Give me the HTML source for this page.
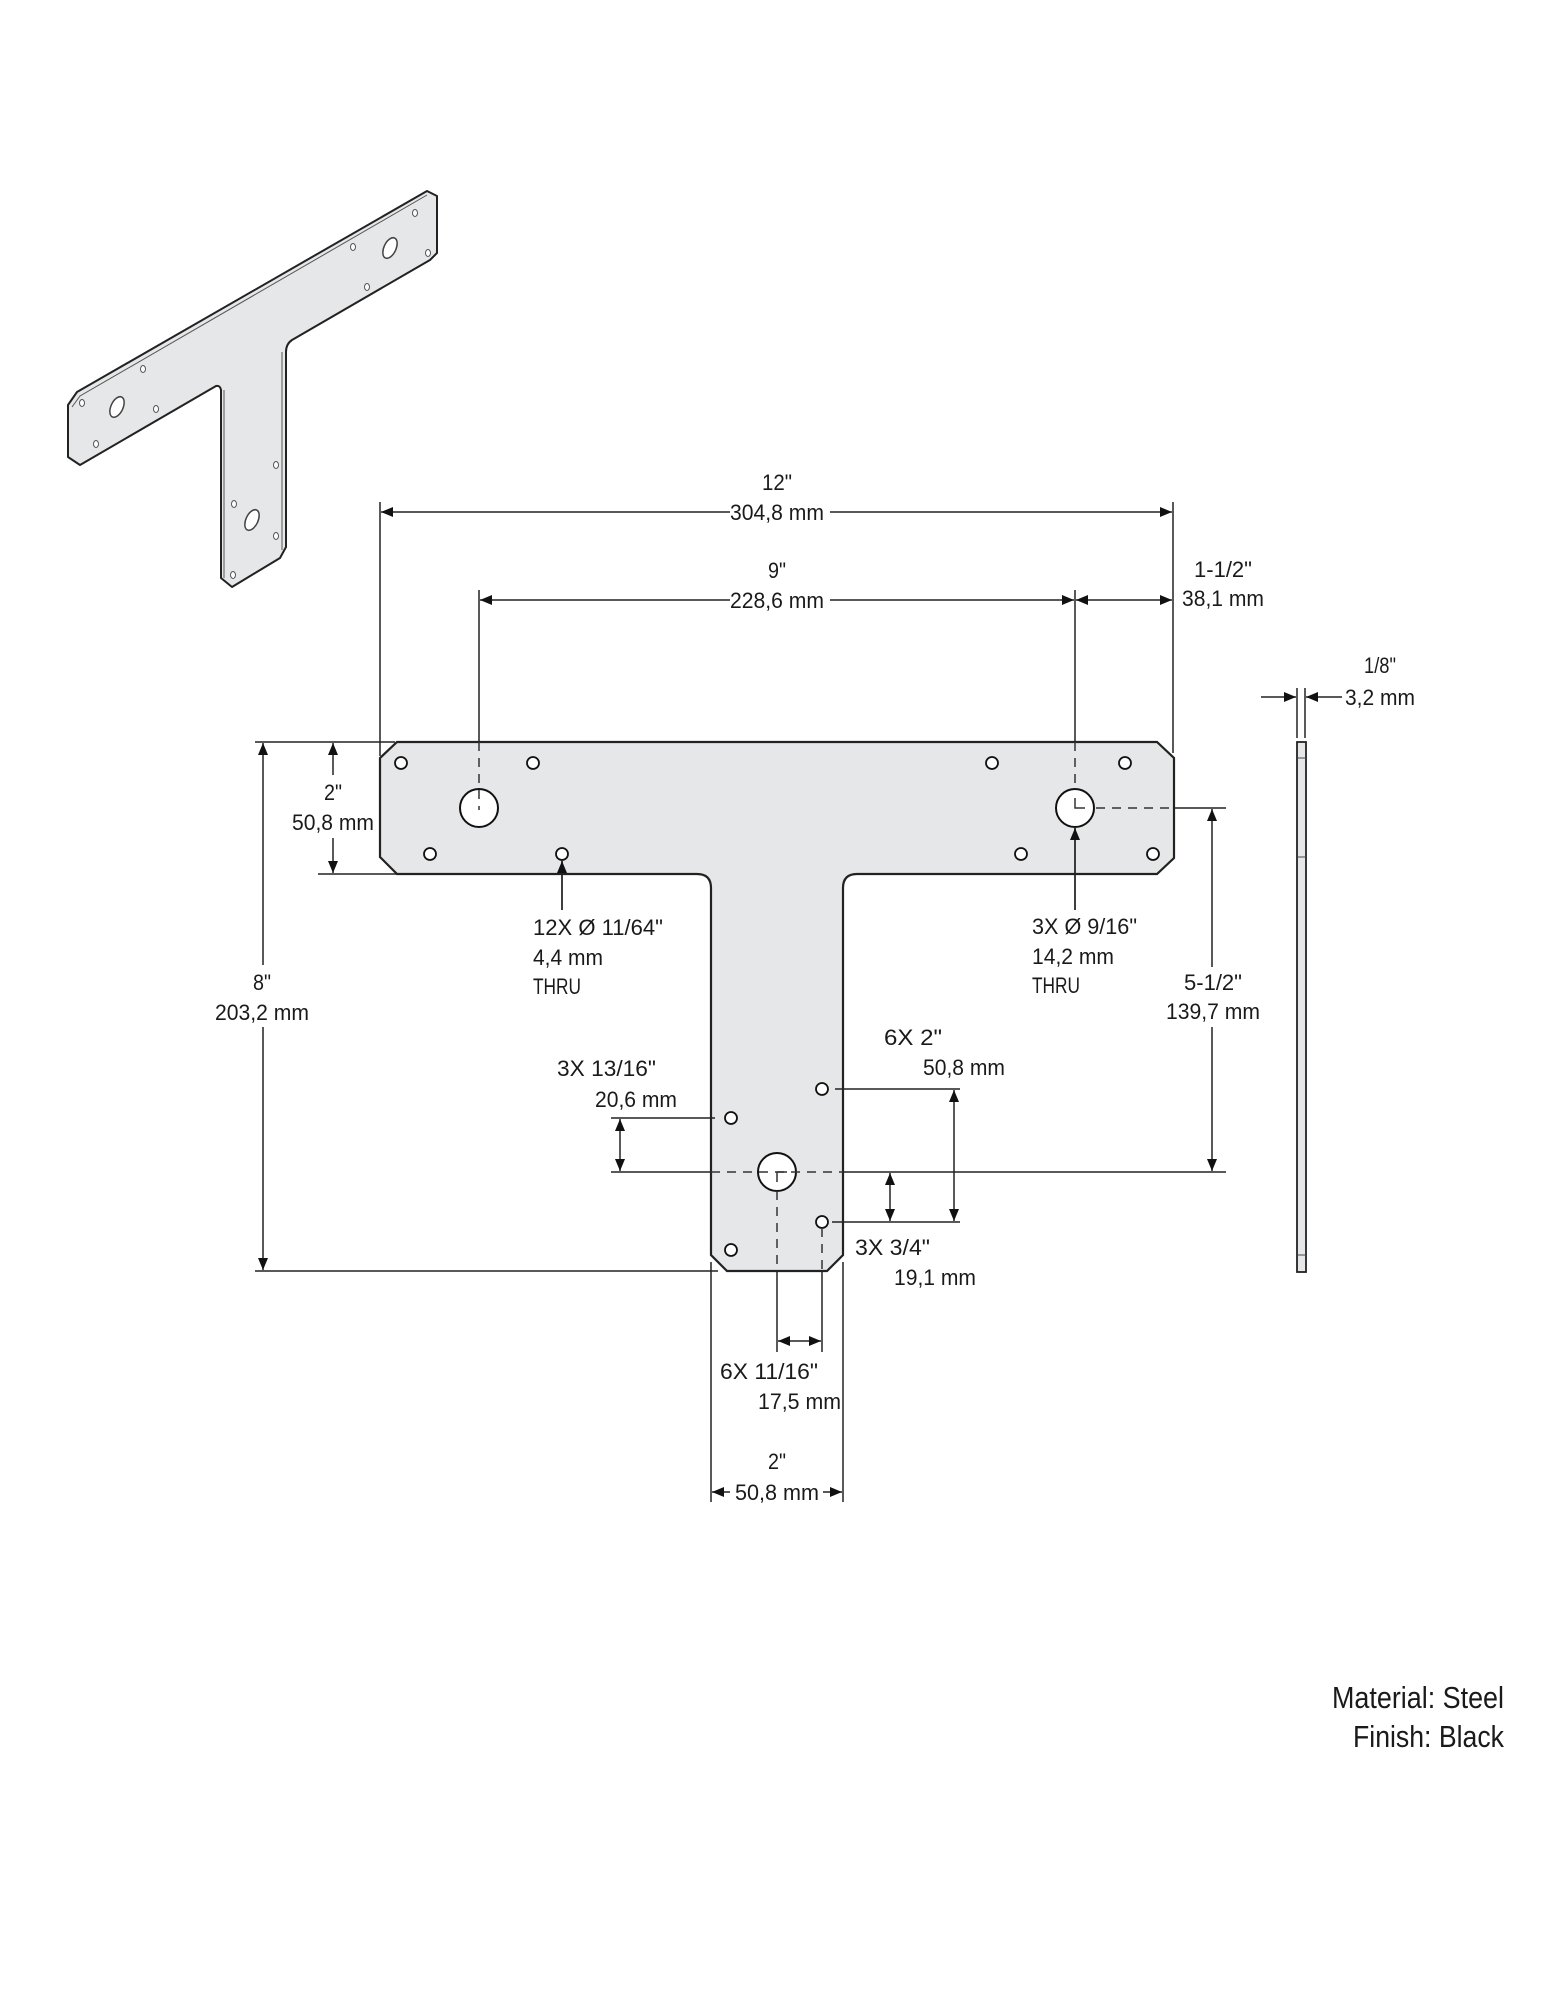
<!DOCTYPE html>
<html><head><meta charset="utf-8"><style>
html,body{margin:0;padding:0;background:#fff;}
svg{display:block;}
text{font-family:"Liberation Sans",sans-serif;font-size:22px;fill:#1a1a1a;}
</style></head><body>
<svg width="1544" height="2000" viewBox="0 0 1544 2000" xmlns="http://www.w3.org/2000/svg">
<defs>
<marker id="a" markerUnits="userSpaceOnUse" markerWidth="12" markerHeight="10" refX="12" refY="5" orient="auto-start-reverse"><path d="M0,0 L12,5 L0,10 z" fill="#111"/></marker>
</defs>

<!-- 3D isometric T -->
<g stroke="#222" stroke-width="2" fill="#e6e7e8" stroke-linejoin="round">
<path d="M427,191 L437,196 L437,253 L430,260 L292,340 Q286,344 286,352 L286,547 L280,558 L232,587 L221,578 L221,390 Q220,385 216,386 L80,465 L68,457 L68,405 L77,392 Z"/>
</g>
<g stroke="#555" stroke-width="1" fill="none">
<path d="M427,195 L80,396 L72,407"/>
<path d="M224,390 L224,578"/>
<path d="M282,352 L282,550"/>
</g>
<g stroke="#444" stroke-width="1.5" fill="#fff">
<ellipse cx="390" cy="248" rx="6" ry="11" transform="rotate(25 390 248)"/>
<ellipse cx="117" cy="407" rx="6" ry="11" transform="rotate(25 117 407)"/>
<ellipse cx="252" cy="520" rx="6" ry="11" transform="rotate(25 252 520)"/>
</g>
<g stroke="#555" stroke-width="1" fill="#fff">
<ellipse cx="415" cy="213" rx="2.5" ry="3.5"/><ellipse cx="428" cy="253" rx="2.5" ry="3.5"/>
<ellipse cx="353" cy="247" rx="2.5" ry="3.5"/><ellipse cx="367" cy="287" rx="2.5" ry="3.5"/>
<ellipse cx="143" cy="369" rx="2.5" ry="3.5"/><ellipse cx="82" cy="403" rx="2.5" ry="3.5"/>
<ellipse cx="156" cy="409" rx="2.5" ry="3.5"/><ellipse cx="96" cy="444" rx="2.5" ry="3.5"/>
<ellipse cx="276" cy="465" rx="2.5" ry="3.5"/><ellipse cx="234" cy="504" rx="2.5" ry="3.5"/>
<ellipse cx="276" cy="536" rx="2.5" ry="3.5"/><ellipse cx="233" cy="575" rx="2.5" ry="3.5"/>
</g>

<!-- Main T plate -->
<path d="M397,742 L1157,742 L1174,758 L1174,858 L1157,874 L857,874 Q843,874 843,888 L843,1255 L827,1271 L727,1271 L711,1255 L711,888 Q711,874 697,874 L397,874 L380,857 L380,758 Z" fill="#e6e7e8" stroke="#222" stroke-width="2.2"/>

<!-- holes -->
<g stroke="#111" stroke-width="2" fill="#fff">
<circle cx="479" cy="808" r="19"/><circle cx="1075" cy="808" r="19"/><circle cx="777" cy="1172" r="19"/>
</g>
<g stroke="#111" stroke-width="1.8" fill="#fff">
<circle cx="401" cy="763" r="6"/><circle cx="533" cy="763" r="6"/><circle cx="430" cy="854" r="6"/><circle cx="562" cy="854" r="6"/>
<circle cx="992" cy="763" r="6"/><circle cx="1125" cy="763" r="6"/><circle cx="1021" cy="854" r="6"/><circle cx="1153" cy="854" r="6"/>
<circle cx="731" cy="1118" r="6"/><circle cx="822" cy="1089" r="6"/><circle cx="822" cy="1222" r="6"/><circle cx="731" cy="1250" r="6"/>
</g>

<!-- dashed center lines -->
<g stroke="#333" stroke-width="1.5" fill="none" stroke-dasharray="9,7">
<line x1="479" y1="742" x2="479" y2="810"/>
<line x1="1075" y1="742" x2="1075" y2="790"/>
<line x1="1096" y1="808" x2="1174" y2="808"/>
<line x1="711" y1="1172" x2="843" y2="1172"/>
<line x1="777" y1="1191" x2="777" y2="1271"/>
<line x1="822" y1="1228" x2="822" y2="1271"/>
</g>
<g stroke="#333" stroke-width="1.5" fill="none">
<path d="M1075,798 L1075,808 L1085,808"/>
<path d="M777,1172 L787,1172 M777,1172 L777,1182"/>
</g>

<!-- dimension / extension lines -->
<g stroke="#222" stroke-width="1.5" fill="none">
<line x1="380" y1="502" x2="380" y2="756"/>
<line x1="1173" y1="502" x2="1173" y2="753"/>
<line x1="479" y1="590" x2="479" y2="742"/>
<line x1="1075" y1="590" x2="1075" y2="742"/>
<line x1="1075" y1="827" x2="1075" y2="910"/>
<line x1="562" y1="860" x2="562" y2="910"/>
<line x1="255" y1="742" x2="395" y2="742"/>
<line x1="255" y1="1271" x2="718" y2="1271"/>
<line x1="318" y1="874" x2="397" y2="874"/>
<line x1="1174" y1="808" x2="1226" y2="808"/>
<line x1="843" y1="1172" x2="1226" y2="1172"/>
<line x1="611" y1="1172" x2="711" y2="1172"/>
<line x1="611" y1="1118" x2="715" y2="1118"/>
<line x1="835" y1="1089" x2="960" y2="1089"/>
<line x1="832" y1="1222" x2="960" y2="1222"/>
<line x1="777" y1="1271" x2="777" y2="1352"/>
<line x1="822" y1="1271" x2="822" y2="1352"/>
<line x1="711" y1="1262" x2="711" y2="1502"/>
<line x1="843" y1="1262" x2="843" y2="1502"/>
<line x1="1297" y1="688" x2="1297" y2="738"/>
<line x1="1305" y1="688" x2="1305" y2="738"/>
</g>
<g stroke="#222" stroke-width="1.5" fill="none" marker-end="url(#a)">
<line x1="730" y1="512" x2="381" y2="512"/>
<line x1="830" y1="512" x2="1172" y2="512"/>
<line x1="730" y1="600" x2="480" y2="600"/>
<line x1="830" y1="600" x2="1074" y2="600"/>
<line x1="1125" y1="600" x2="1076" y2="600"/>
<line x1="1125" y1="600" x2="1172" y2="600"/>
<line x1="1261" y1="697" x2="1296" y2="697"/>
<line x1="1342" y1="697" x2="1306" y2="697"/>
<line x1="263" y1="965" x2="263" y2="743"/>
<line x1="263" y1="1027" x2="263" y2="1270"/>
<line x1="333" y1="775" x2="333" y2="743"/>
<line x1="333" y1="838" x2="333" y2="873"/>
<line x1="562" y1="910" x2="562" y2="861"/>
<line x1="1075" y1="910" x2="1075" y2="828"/>
<line x1="1212" y1="967" x2="1212" y2="809"/>
<line x1="1212" y1="1027" x2="1212" y2="1171"/>
</g>
<g stroke="#222" stroke-width="1.5" fill="none" marker-start="url(#a)" marker-end="url(#a)">
<line x1="620" y1="1119" x2="620" y2="1171"/>
<line x1="954" y1="1090" x2="954" y2="1221"/>
<line x1="890" y1="1173" x2="890" y2="1221"/>
<line x1="778" y1="1341" x2="821" y2="1341"/>
</g>
<g stroke="#222" stroke-width="1.5" fill="none" marker-end="url(#a)">
<line x1="730" y1="1492" x2="712" y2="1492"/>
<line x1="823" y1="1492" x2="842" y2="1492"/>
</g>

<!-- side view plate -->
<rect x="1297" y="742" width="9" height="530" fill="#e6e7e8" stroke="#222" stroke-width="1.8"/>
<g stroke="#444" stroke-width="1"><line x1="1297" y1="758" x2="1306" y2="758"/><line x1="1297" y1="857" x2="1306" y2="857"/><line x1="1297" y1="1255" x2="1306" y2="1255"/></g>

<!-- labels -->
<g text-anchor="middle">
<text x="777" y="490" textLength="30" lengthAdjust="spacingAndGlyphs">12"</text>
<text x="777" y="520" textLength="94" lengthAdjust="spacingAndGlyphs">304,8 mm</text>
<text x="777" y="578" textLength="18" lengthAdjust="spacingAndGlyphs">9"</text>
<text x="777" y="608" textLength="94" lengthAdjust="spacingAndGlyphs">228,6 mm</text>
<text x="1223" y="577" textLength="58" lengthAdjust="spacingAndGlyphs">1-1/2"</text>
<text x="1380" y="673" textLength="32" lengthAdjust="spacingAndGlyphs">1/8"</text>
<text x="333" y="800" textLength="18" lengthAdjust="spacingAndGlyphs">2"</text>
<text x="333" y="830" textLength="82" lengthAdjust="spacingAndGlyphs">50,8 mm</text>
<text x="262" y="990" textLength="18" lengthAdjust="spacingAndGlyphs">8"</text>
<text x="262" y="1020" textLength="94" lengthAdjust="spacingAndGlyphs">203,2 mm</text>
<text x="1213" y="990" textLength="58" lengthAdjust="spacingAndGlyphs">5-1/2"</text>
<text x="1213" y="1019" textLength="94" lengthAdjust="spacingAndGlyphs">139,7 mm</text>
<text x="777" y="1469" textLength="18" lengthAdjust="spacingAndGlyphs">2"</text>
<text x="777" y="1500" textLength="84" lengthAdjust="spacingAndGlyphs">50,8 mm</text>
</g>
<text x="1182" y="606" textLength="82" lengthAdjust="spacingAndGlyphs">38,1 mm</text>
<text x="1345" y="705" textLength="70" lengthAdjust="spacingAndGlyphs">3,2 mm</text>
<text x="533" y="935" textLength="130" lengthAdjust="spacingAndGlyphs">12X Ø  11/64"</text>
<text x="533" y="965" textLength="70" lengthAdjust="spacingAndGlyphs">4,4 mm</text>
<text x="533" y="994" textLength="48" lengthAdjust="spacingAndGlyphs">THRU</text>
<text x="1032" y="934" textLength="105" lengthAdjust="spacingAndGlyphs">3X Ø  9/16"</text>
<text x="1032" y="964" textLength="82" lengthAdjust="spacingAndGlyphs">14,2 mm</text>
<text x="1032" y="993" textLength="48" lengthAdjust="spacingAndGlyphs">THRU</text>
<text x="884" y="1045" textLength="58" lengthAdjust="spacingAndGlyphs">6X  2"</text>
<text x="923" y="1075" textLength="82" lengthAdjust="spacingAndGlyphs">50,8 mm</text>
<text x="557" y="1076" textLength="99" lengthAdjust="spacingAndGlyphs">3X  13/16"</text>
<text x="595" y="1107" textLength="82" lengthAdjust="spacingAndGlyphs">20,6 mm</text>
<text x="855" y="1255" textLength="75" lengthAdjust="spacingAndGlyphs">3X  3/4"</text>
<text x="894" y="1285" textLength="82" lengthAdjust="spacingAndGlyphs">19,1 mm</text>
<text x="720" y="1379" textLength="98" lengthAdjust="spacingAndGlyphs">6X  11/16"</text>
<text x="758" y="1409" textLength="83" lengthAdjust="spacingAndGlyphs">17,5 mm</text>

<text x="1504" y="1708" text-anchor="end" style="font-size:31px" textLength="172" lengthAdjust="spacingAndGlyphs">Material: Steel</text>
<text x="1504" y="1747" text-anchor="end" style="font-size:31px" textLength="151" lengthAdjust="spacingAndGlyphs">Finish: Black</text>
</svg>
</body></html>
